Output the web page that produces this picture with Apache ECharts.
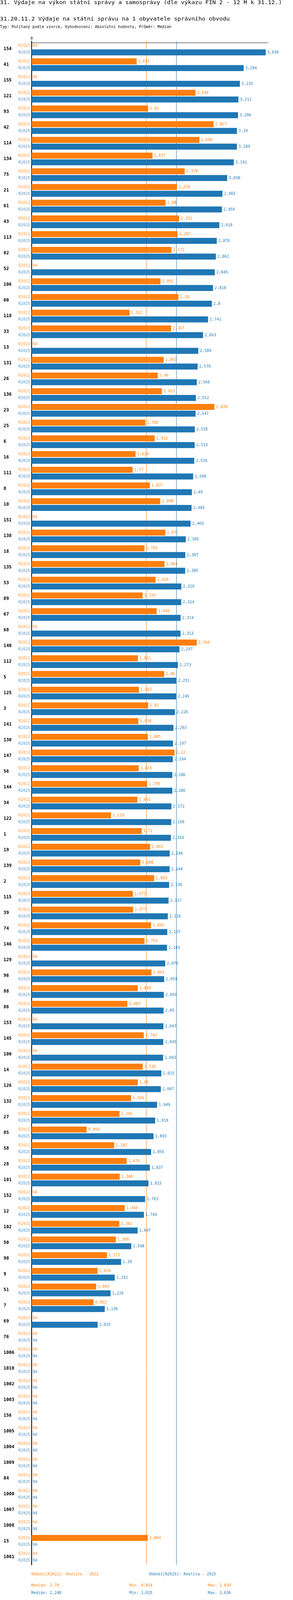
<!DOCTYPE html>
<html>
<head>
<meta charset="utf-8">
<title>31.20.11.2 Výdaje na státní správu na 1 obyvatele správního obvodu</title>
<script src="https://cdn.jsdelivr.net/npm/echarts@6/dist/echarts.min.js"></script>
<style>
  html, body { margin: 0; padding: 0; background: #fff; overflow: hidden; }
  #chart { width: 750px; height: 4278px; transform-origin: 0 0; }
</style>
</head>
<body>
<div id="chart"></div>
<script>
// správní obvody (pořadí podle R2025)
const categories = ['154', '41', '155', '121', '93', '42', '114', '134', '75', '21',
  '61', '43', '113', '82', '52', '106', '60', '118', '33', '13',
  '131', '26', '136', '23', '25', '6', '16', '111', '8', '10',
  '151', '138', '18', '135', '53', '89', '67', '68', '140', '112',
  '5', '125', '3', '141', '130', '147', '56', '144', '34', '122',
  '1', '19', '139', '2', '115', '39', '74', '146', '129', '96',
  '88', '86', '153', '145', '100', '14', '126', '132', '27', '85',
  '58', '28', '101', '152', '12', '102', '50', '90', '9', '51',
  '7', '69', '76', '1006', '1010', '1002', '1003', '156', '1005', '1004',
  '1009', '84', '1000', '1007', '1008', '15', '1001'];

// null = NA
const r2022 = [null, 1.631, null, 2.546, 1.81, 2.827, 2.606, 1.877, 2.378, 2.258,
  2.08, 2.291, 2.267, 2.172, null, 2.001, 2.28, 1.522, 2.167, null,
  2.051, 1.96, 2.023, 2.839, 1.766, 1.912, 1.614, 1.57, 1.837, 1.998,
  null, 2.077, 1.753, 2.064, 1.926, 1.725, 1.943, null, 2.566, 1.651,
  2.06, 1.667, 1.81, 1.658, 1.805, 2.22, 1.663, 1.795, 1.643, 1.233,
  1.71, 1.841, 1.688, 1.903, 1.573, 1.577, 1.855, 1.753, null, 1.861,
  1.649, 1.487, null, 1.742, null, 1.726, 1.65, 1.545, 1.365, 0.854,
  1.282, 1.476, 1.368, null, 1.446, 1.362, 1.308, 1.171, 1.024, 1.003,
  0.962, null, null, null, null, null, null, null, null, null,
  null, null, null, null, null, 1.804, null];

const r2025 = [3.636, 3.294, 3.235, 3.212, 3.206, 3.19, 3.189, 3.141, 3.038, 2.965,
  2.956, 2.916, 2.876, 2.862, 2.845, 2.818, 2.8, 2.741, 2.663, 2.589,
  2.579, 2.566, 2.552, 2.547, 2.535, 2.533, 2.526, 2.509, 2.49, 2.485,
  2.469, 2.395, 2.387, 2.385, 2.326, 2.324, 2.314, 2.313, 2.297, 2.273,
  2.251, 2.245, 2.226, 2.203, 2.197, 2.194, 2.186, 2.186, 2.172, 2.169,
  2.163, 2.146, 2.144, 2.136, 2.127, 2.116, 2.107, 2.103, 2.076, 2.059,
  2.054, 2.05, 2.047, 2.045, 2.042, 2.015, 2.007, 1.949, 1.919, 1.893,
  1.856, 1.837, 1.815, 1.763, 1.744, 1.647, 1.548, 1.39, 1.291, 1.226,
  1.136, 1.025, null, null, null, null, null, null, null, null,
  null, null, null, null, null, null, null];

// souhrnné hodnoty (medián, min, max)
const stats2022 = [1.78, 0.854, 2.839];
const stats2025 = [2.248, 1.025, 3.636];
const xTicks = [0];

const ORANGE = '#ff7f0e';
const BLUE = '#1f77b4';
const FONT = 'DejaVu Sans Mono, Liberation Mono, monospace';
const SMALL = 9.85;
const BIG = 14.8;

const chartEl = document.getElementById('chart');
// přizpůsobení oknu, kdyby nemělo přesně 750x4278
const sx = window.innerWidth / 750;
const sy = window.innerHeight / 4278;
if (Math.abs(sx - 1) > 0.002 || Math.abs(sy - 1) > 0.002) {
    chartEl.style.transform = 'scale(' + sx + ',' + sy + ')';
}

const chart = echarts.init(chartEl);

// česká desetinná čárka
function fmt(v) {
    return String(v).replace('.', ',');
}

function barSeries(name, values, color, median) {
    return {
        name: name,
        type: 'bar',
        barWidth: 16,
        barGap: '12.5%',
        z: 2,
        itemStyle: { color: color },
        label: {
            show: true,
            position: 'right',
            distance: 4,
            color: color,
            fontFamily: FONT,
            fontSize: SMALL,
            formatter: p => fmt(p.value)
        },
        data: values,
        markLine: {
            silent: true,
            symbol: 'none',
            z: 1,
            label: { show: false },
            lineStyle: { color: color, type: 'solid', width: 1 },
            data: [{ xAxis: median }]
        }
    };
}

// popisek období vlevo od osy
function tagSeries(name, color, dy) {
    return {
        name: name + '-tag',
        type: 'scatter',
        symbolSize: 0,
        silent: true,
        label: {
            show: true,
            position: 'left',
            distance: 4,
            offset: [0, dy],
            color: color,
            fontFamily: FONT,
            fontSize: SMALL,
            formatter: name
        },
        data: categories.map(c => [0, c])
    };
}

// NA pro chybějící hodnoty
function naSeries(name, values, color, dy) {
    const data = [];
    values.forEach((v, i) => {
        if (v === null) data.push([0, categories[i]]);
    });
    return {
        name: name + '-na',
        type: 'scatter',
        symbolSize: 0,
        silent: true,
        label: {
            show: true,
            position: 'right',
            distance: 3,
            offset: [0, dy],
            color: color,
            fontFamily: FONT,
            fontSize: SMALL,
            formatter: 'NA'
        },
        data: data
    };
}

function txt(text, left, top, size, color) {
    return {
        text: text,
        left: left,
        top: top,
        padding: 0,
        textStyle: { fontFamily: FONT, fontSize: size, fontWeight: 'normal', color: color }
    };
}

const option = {
    animation: false,
    backgroundColor: '#fff',
    title: [
        txt('31. Výdaje na výkon státní správy a samosprávy (dle výkazu FIN 2 - 12 M k 31.12.)', 0, 0, BIG, '#000'),
        txt('31.20.11.2 Výdaje na státní správu na 1 obyvatele správního obvodu', 0, 44, BIG, '#000'),
        txt('Typ: Počítaný podle vzorce, Vyhodnocení: Absolutní hodnoty, Průměr: Medián', 0, 67, SMALL, '#000'),
        txt('Období[R2022]: Realita - 2022', 80, 4204, SMALL, ORANGE),
        txt('Období[R2025]: Realita - 2025', 381, 4204, SMALL, BLUE),
        txt('Medián: ' + fmt(stats2022[0]), 80, 4234, SMALL, ORANGE),
        txt('Min: ' + fmt(stats2022[1]), 331, 4234, SMALL, ORANGE),
        txt('Max: ' + fmt(stats2022[2]), 532, 4234, SMALL, ORANGE),
        txt('Medián: ' + fmt(stats2025[0]), 80, 4254, SMALL, BLUE),
        txt('Min: ' + fmt(stats2025[1]), 331, 4254, SMALL, BLUE),
        txt('Max: ' + fmt(stats2025[2]), 532, 4254, SMALL, BLUE)
    ],
    grid: {
        left: 81,
        top: 110,
        width: 605,
        height: categories.length * 42
    },
    xAxis: {
        type: 'value',
        position: 'top',
        offset: -4,
        min: 0,
        max: 3.672,
        interval: 10,
        axisLine: { show: true, lineStyle: { color: '#000', width: 1 } },
        axisTick: { show: false },
        splitLine: { show: false },
        axisLabel: {
            margin: 6,
            color: '#000',
            fontFamily: FONT,
            fontSize: SMALL,
            formatter: v => (xTicks.indexOf(v) >= 0 ? String(v) : '')
        }
    },
    yAxis: {
        type: 'category',
        inverse: true,
        data: categories,
        axisLine: { show: true, lineStyle: { color: '#000', width: 2 } },
        axisTick: { show: false },
        splitLine: { show: false },
        axisLabel: {
            interval: 0,
            align: 'left',
            margin: 72,
            padding: [0, 0, 17, 0],
            color: '#000',
            fontFamily: FONT,
            fontWeight: 'bold',
            fontSize: 11.5
        }
    },
    series: [
        barSeries('R2022', r2022, ORANGE, stats2022[0]),
        barSeries('R2025', r2025, BLUE, stats2025[0]),
        tagSeries('R2022', ORANGE, -9),
        tagSeries('R2025', BLUE, 9),
        naSeries('R2022', r2022, ORANGE, -9),
        naSeries('R2025', r2025, BLUE, 9)
    ]
};

chart.setOption(option);

window.addEventListener('resize', function () {
    chart.resize();
});
</script>
</body>
</html>
